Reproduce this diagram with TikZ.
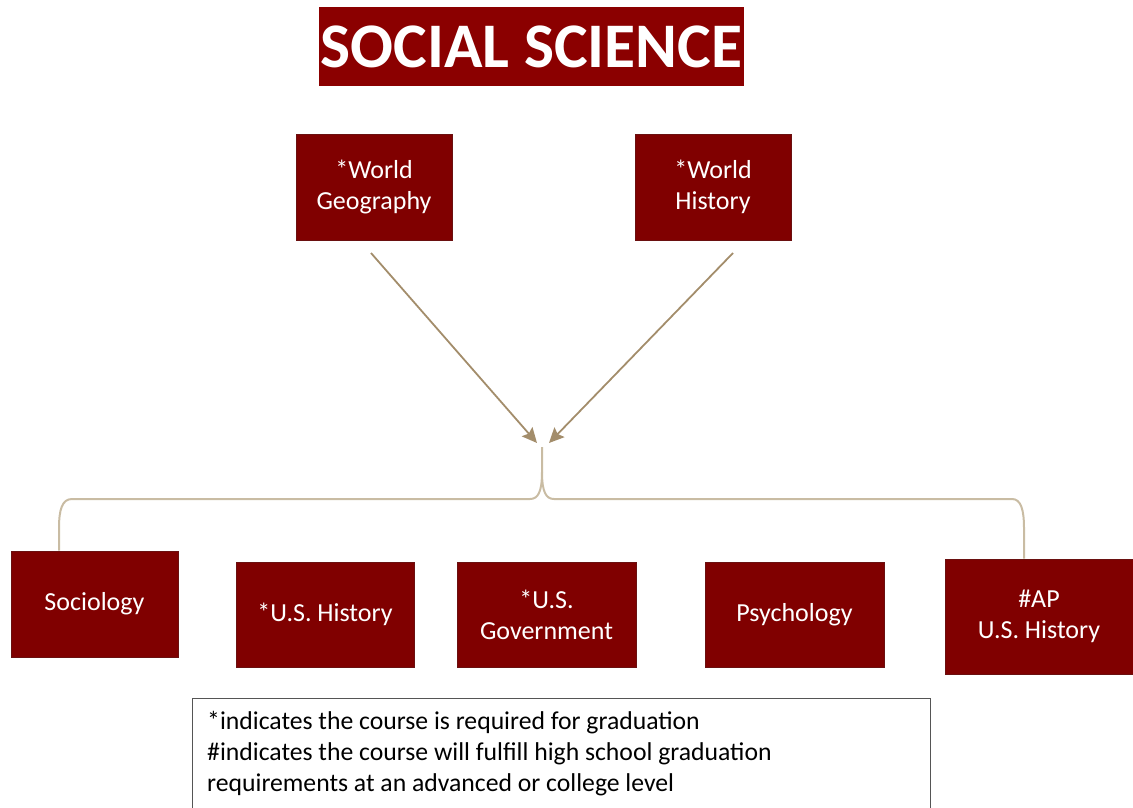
\documentclass[tikz,border=0pt]{standalone}
\usepackage{fontspec}
\setmainfont{Carlito}
\usetikzlibrary{arrows.meta}
\definecolor{maroon}{HTML}{800000}
\definecolor{titlered}{HTML}{8B0000}
\definecolor{boxedge}{HTML}{6A1010}
\definecolor{arrowtan}{HTML}{A38D6B}
\definecolor{bracetan}{HTML}{C9BCA3}
\definecolor{legendedge}{HTML}{555555}
\tikzset{
  course/.style={draw=boxedge, line width=0.8pt, fill=maroon, text=white, align=center,
    inner sep=0pt, font=\fontsize{26}{31}\selectfont},
  feed/.style={draw=arrowtan, line width=1.8pt, -{Stealth[length=15pt,width=14pt,inset=2.5pt]}},
  bracket/.style={draw=bracetan, line width=2pt},
}
\begin{document}
\begin{tikzpicture}[x=1pt,y=-1pt]
\useasboundingbox (0,0) rectangle (1133,808);
% title
\node[fill=titlered, text=white, minimum width=425pt, minimum height=79pt, inner sep=0pt,
  font=\fontsize{63.5}{70}\selectfont\bfseries] (title) at (531.5,46.5) {SOCIAL SCIENCE};
% top courses
\node[course, minimum width=156pt, minimum height=106pt] (wg) at (374,187) {*World\\Geography};
\node[course, minimum width=156pt, minimum height=106pt] (wh) at (713,187) {*World\\History};
% bottom courses
\node[course, minimum width=167pt, minimum height=106pt] (soc) at (94.5,604) {Sociology};
\node[course, minimum width=178pt, minimum height=105pt] (ush) at (325,614.5) {*U.S. History};
\node[course, minimum width=179pt, minimum height=105pt] (usg) at (546.5,614.5) {*U.S.\\Government};
\node[course, minimum width=179pt, minimum height=105pt] (psy) at (794.5,614.5) {Psychology};
\node[course, minimum width=188pt, minimum height=115pt] (ap) at (1039,616.5) {\#AP\\U.S. History};
% arrows
\coordinate (wgs) at (371,253);
\coordinate (whs) at (733,253);
\coordinate (tipl) at (537,443);
\coordinate (tipr) at (549,443);
\draw[feed] (wgs) -- (tipl);
\draw[feed] (whs) -- (tipr);
% bracket
\coordinate (btop) at (542,447);
\coordinate (bmid) at (542,472);
\draw[bracket] (btop) -- (bmid) .. controls (542,492) and (538,499) .. (530,499) -- (72,499)
  .. controls (62,499) and (59,510) .. (59,528) -- (soc.north -| 59,0);
\draw[bracket] (bmid) .. controls (542,492) and (546,499) .. (554,499) -- (1012,499)
  .. controls (1021,499) and (1024,510) .. (1024,528) -- (ap.north -| 1024,0);
% legend
\draw[legendedge, line width=0.8pt] (192,812) -- (192,698) -- (930,698) -- (930,812);
\node[anchor=north west, align=left, inner sep=0pt, font=\fontsize{25.7}{31}\selectfont] (legend) at (207,711)
  {*indicates the course is required for graduation\\
   \#indicates the course will fulfill high school graduation\\
   requirements at an advanced or college level};
\end{tikzpicture}
\end{document}
